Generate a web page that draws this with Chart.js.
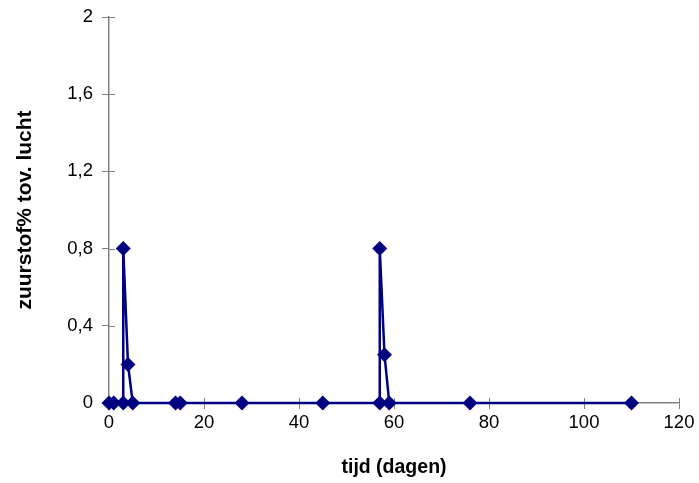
<!DOCTYPE html>
<html>
<head>
<meta charset="utf-8">
<script src="https://cdn.jsdelivr.net/npm/chart.js@4"></script>
<style>
  html, body { margin: 0; padding: 0; background: #fff; }
  #wrap { width: 699px; height: 483px; }
</style>
</head>
<body>
<div id="wrap"><canvas id="chart" width="699" height="483"></canvas></div>
<script>
'use strict';

// measurements (tijd in dagen, zuurstof % t.o.v. lucht)
const days = [0, 1, 3, 3, 4, 5, 14, 15, 28, 45, 57, 57, 58, 59, 76, 110];
const oxygen = [0, 0, 0, 0.8, 0.2, 0, 0, 0, 0, 0, 0, 0.8, 0.25, 0, 0, 0];
const xTicks = [0, 20, 40, 60, 80, 100, 120];
const yTicks = [0, 0.4, 0.8, 1.2, 1.6, 2];

const points = days.map((d, i) => {
  return { x: d, y: oxygen[i] };
});

const navy = '#000080';
const axisGrey = '#808080';
const font = 'Liberation Sans, Arial, sans-serif';

// excel style tick marks cross the axis: draw the inner half too
const innerTicks = {
  id: 'innerTicks',
  beforeDatasetsDraw(chart) {
    const { ctx, scales } = chart;
    const x = scales.x;
    const y = scales.y;
    ctx.save();
    ctx.strokeStyle = axisGrey;
    ctx.lineWidth = 1;
    xTicks.forEach((v) => {
      const px = Math.round(x.getPixelForValue(v)) + 0.5;
      ctx.beginPath();
      ctx.moveTo(px, y.bottom);
      ctx.lineTo(px, y.bottom - 5);
      ctx.stroke();
    });
    yTicks.forEach((v) => {
      const py = Math.round(y.getPixelForValue(v)) + 0.5;
      ctx.beginPath();
      ctx.moveTo(x.left, py);
      ctx.lineTo(x.left + 6, py);
      ctx.stroke();
    });
    ctx.restore();
  },
};

const chartData = {
  datasets: [
    {
      data: points,
      showLine: true,
      clip: false,
      borderColor: navy,
      backgroundColor: navy,
      borderWidth: 2.5,
      pointStyle: 'rectRot',
      pointRadius: 7.5,
      pointHoverRadius: 7.5,
      pointBorderWidth: 0,
      tension: 0,
    },
  ],
};

const options = {
  responsive: false,
  animation: false,
  layout: {
    padding: { top: 17, right: 20, left: 0, bottom: 0 },
  },
  plugins: {
    legend: { display: false },
    tooltip: { enabled: false },
  },
  scales: {
    x: {
      type: 'linear',
      min: 0,
      max: 120,
      afterBuildTicks: (scale) => {
        scale.ticks = xTicks.map((v) => ({ value: v }));
      },
      afterFit: (scale) => {
        scale.height = 80;
      },
      border: { color: axisGrey, width: 1.5 },
      grid: {
        drawOnChartArea: false,
        drawTicks: true,
        tickLength: 6,
        color: axisGrey,
      },
      ticks: {
        color: '#000',
        padding: 3,
        maxRotation: 0,
        font: { family: font, size: 18.5 },
      },
      title: {
        display: true,
        text: 'tijd (dagen)',
        color: '#000',
        padding: { top: 14 },
        font: { family: font, size: 19.5, weight: 'bold' },
      },
    },
    y: {
      type: 'linear',
      min: 0,
      max: 2,
      afterBuildTicks: (scale) => {
        scale.ticks = yTicks.map((v) => ({ value: v }));
      },
      afterFit: (scale) => {
        scale.width = 109;
        scale.paddingTop = 0;
        scale.paddingBottom = 0;
      },
      border: { color: axisGrey, width: 1.5 },
      grid: {
        drawOnChartArea: false,
        drawTicks: true,
        tickLength: 7,
        color: axisGrey,
      },
      ticks: {
        color: '#000',
        padding: 9,
        font: { family: font, size: 18.5 },
        callback: function (value) {
          return String(value).replace('.', ',');
        },
      },
      title: {
        display: true,
        text: 'zuurstof% tov. lucht',
        color: '#000',
        padding: { bottom: 0, top: 13 },
        font: { family: font, size: 21, weight: 'bold' },
      },
    },
  },
};

const config = {
  type: 'scatter',
  data: chartData,
  options: options,
  plugins: [innerTicks],
};

const ctx = document.getElementById('chart');
let myChart = new Chart(ctx, config);
</script>
</body>
</html>
